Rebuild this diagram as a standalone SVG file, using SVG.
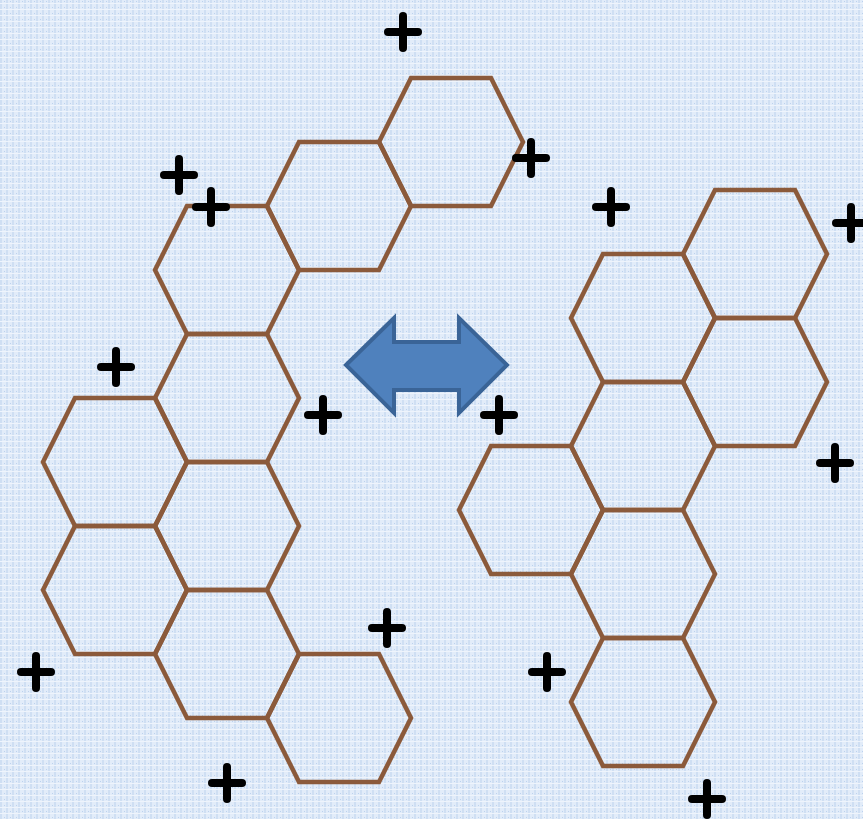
<svg xmlns="http://www.w3.org/2000/svg" width="863" height="819" viewBox="0 0 863 819">
<defs>
<pattern id="bg" width="6" height="6" patternUnits="userSpaceOnUse">
<rect width="6" height="6" fill="#e2ecf9"/>
<rect x="0" y="0" width="2" height="6" fill="#cfdff3"/>
<rect x="0" y="3" width="6" height="1" fill="#eef4fc"/>
<rect x="4" y="1" width="1" height="1" fill="#bcd2ee"/>
</pattern>
<polygon id="hex" points="-72,0 -40,-64 40,-64 72,0 40,64 -40,64"/>
<g id="plus"><line x1="-15" y1="0" x2="15" y2="0"/><line x1="0" y1="-16" x2="0" y2="16"/></g>
</defs>
<style>
.hex use{fill:none;stroke:#8b5a3b;stroke-width:4.5;stroke-linejoin:miter}
.plus{stroke:#000;stroke-width:8;stroke-linecap:round}
.arrow{fill:#4f81bd;stroke:#3a6497;stroke-width:4;stroke-linejoin:miter}
</style>
<rect width="863" height="819" fill="url(#bg)"/>
<g id="left-cluster" class="hex">
<use href="#hex" x="451" y="142"/>
<use href="#hex" x="339" y="206"/>
<use href="#hex" x="227" y="270"/>
<use href="#hex" x="227" y="398"/>
<use href="#hex" x="115" y="462"/>
<use href="#hex" x="227" y="526"/>
<use href="#hex" x="115" y="590"/>
<use href="#hex" x="227" y="654"/>
<use href="#hex" x="339" y="718"/>
</g>
<g id="right-cluster" class="hex">
<use href="#hex" x="755" y="254"/>
<use href="#hex" x="643" y="318"/>
<use href="#hex" x="755" y="382"/>
<use href="#hex" x="643" y="446"/>
<use href="#hex" x="531" y="510"/>
<use href="#hex" x="643" y="574"/>
<use href="#hex" x="643" y="702"/>
</g>
<g id="arrow">
<polygon class="arrow" points="346,365 394,318 394,342 459,342 459,318 507,365 459,413 459,390 394,390 394,413"/>
</g>
<g id="plus-signs" class="plus">
<use href="#plus" x="403" y="32"/>
<use href="#plus" x="531" y="158"/>
<use href="#plus" x="179" y="175"/>
<use href="#plus" x="211" y="207"/>
<use href="#plus" x="611" y="207"/>
<use href="#plus" x="851" y="223"/>
<use href="#plus" x="116" y="367"/>
<use href="#plus" x="323" y="415"/>
<use href="#plus" x="499" y="415"/>
<use href="#plus" x="835" y="463"/>
<use href="#plus" x="387" y="628"/>
<use href="#plus" x="547" y="672"/>
<use href="#plus" x="36" y="672"/>
<use href="#plus" x="227" y="783"/>
<use href="#plus" x="707" y="799"/>
</g>
</svg>
